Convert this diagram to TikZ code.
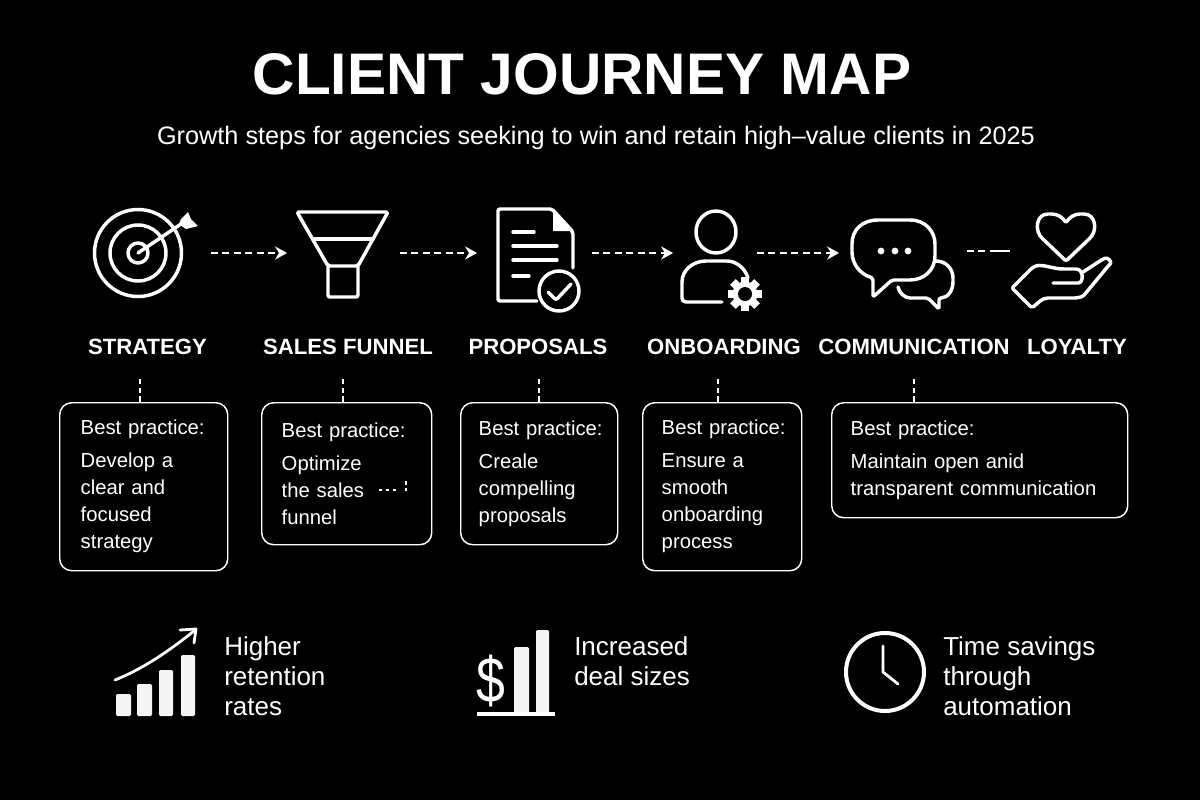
\documentclass[tikz,border=0pt]{standalone}
\usepackage{fontspec}
\setmainfont{Liberation Sans}
\usetikzlibrary{arrows.meta}
\tikzset{
  icon/.style={draw=white,line width=2.6pt,line cap=round,line join=round,rounded corners=1.5pt},
  thinicon/.style={draw=white,line width=2.1pt,line cap=round,line join=round},
  link/.style={draw=white,line width=1.2pt,dash pattern=on 5pt off 3.6pt},
  linkarrow/.style={link,-{Stealth[length=9pt,width=10pt,inset=3pt,color=white]}},
  drop/.style={draw=white,line width=1pt,dash pattern=on 4pt off 2.5pt},
  steplabel/.style={text=white,font=\fontsize{16.6}{20}\selectfont\bfseries,anchor=center},
  practice/.style={draw=white,line width=1.1pt,rounded corners=9pt,anchor=north west,align=left,text=white,inner ysep=0pt,font=\fontsize{15.2}{20.25}\selectfont},
  gain/.style={text=white,anchor=west,align=left,inner sep=0pt,font=\fontsize{19.5}{22.6}\selectfont},
  barfill/.style={fill=white!96!black,rounded corners=1pt},
}
\newcommand{\bestp}{\mbox{Best practice:}\\[4.5pt]}
\begin{document}
\begin{tikzpicture}[x=0.75pt,y=-0.75pt]
\fill[black] (0,0) rectangle (1200,800);
\useasboundingbox (0,0) rectangle (1200,800);

\node[text=white,font=\fontsize{44}{50}\selectfont\bfseries] (title) at (582,74) {CLIENT JOURNEY MAP};
\node[text=white,font=\fontsize{18.95}{22}\selectfont] (subtitle) at (596,138) {Growth steps for agencies seeking to win and retain high–value clients in 2025};

% target
\draw[icon] (138,253) circle (43.5);
\draw[icon] (138,253) circle (28);
\draw[icon] (138,253) circle (10);
\draw[thinicon,line width=2.6pt] (138,253) -- (184,222);
\fill[white] (188,212) -- (191,219) -- (198,226) -- (186,229) -- (179,224) -- (181,219) -- cycle;

% funnel
\draw[icon] (297,212) -- (388,212) -- (358,266) -- (328,266) -- cycle;
\draw[icon] (328,266) -- (328,297) -- (358,297) -- (358,266);
\draw[icon] (314,239) -- (373,239);

% document
\draw[icon] (537,301) -- (498,301) -- (498,209) -- (552,209) -- (573,232) -- (573,268);
\fill[white] (553,209) -- (573,231) -- (553,231) -- cycle;
\draw[icon] (513,232) -- (534,232);
\draw[icon] (513,246) -- (557,246);
\draw[icon] (513,260) -- (557,260);
\draw[icon] (513,276) -- (529,276);
\draw[icon] (559,291) circle (20);
\draw[icon] (548,292) -- (556,300) -- (571,284);

% person with gear
\draw[icon] (716,232) ellipse (20 and 21);
\draw[icon] (722,302) -- (688,302) .. controls (683,302) and (682,300) .. (682,296) -- (682,284) .. controls (682,270) and (693,261) .. (708,261) -- (725,261) .. controls (736,261) and (745,268) .. (748,278);
\fill[white] (745,294) circle (12.5);
\foreach \a in {0,45,...,315}{\fill[white,rotate around={\a:(745,294)}] (741,277) rectangle (749,290);}
\fill[black] (745,294) circle (7);

% chat
\draw[icon] (892,280) -- (873,297) -- (873,278) .. controls (860,274) and (852,264) .. (852,250) -- (852,246) .. controls (852,230) and (862,220) .. (880,220) -- (908,220) .. controls (926,220) and (935,232) .. (935,246) -- (935,254) .. controls (935,270) and (924,280) .. (908,280) -- cycle;
\fill[white] (881,251) circle (3.4) (895,251) circle (3.4) (908,251) circle (3.4);
\draw[icon] (936,261) .. controls (947,261) and (953,270) .. (953,280) .. controls (953,290) and (948,298) .. (939,298) -- (939,309) -- (928,298) -- (912,298) .. controls (905,298) and (899,293) .. (898,287);

% heart in hand
\draw[icon] (1066,261) -- (1044,240) .. controls (1034,231) and (1036,214) .. (1050,214) .. controls (1058,214) and (1063,218) .. (1066,223) .. controls (1069,218) and (1074,214) .. (1082,214) .. controls (1096,214) and (1098,231) .. (1088,240) -- cycle;
\draw[icon] (1053,283) -- (1076,283) .. controls (1084,283) and (1084,269) .. (1074,269) -- (1062,269) .. controls (1050,268) and (1040,263) .. (1032,268) -- (1012,288) -- (1032,308) .. controls (1038,303) and (1042,298) .. (1050,298) -- (1073,298) .. controls (1078,298) and (1082,297) .. (1085,294) -- (1109,265) .. controls (1112,262) and (1108,257) .. (1103,259) -- (1083,272);

% connector anchors
\coordinate (a1s) at (211,253); \coordinate (a1e) at (287,253);
\coordinate (a2s) at (400,253); \coordinate (a2e) at (477,253);
\coordinate (a3s) at (592,253); \coordinate (a3e) at (673,253);
\coordinate (a4s) at (757,253); \coordinate (a4e) at (839,253);
\coordinate (a5s) at (967,251); \coordinate (a5m) at (992,251); \coordinate (a5e) at (1010,251);
\draw[linkarrow] (a1s) -- (a1e);
\draw[linkarrow] (a2s) -- (a2e);
\draw[linkarrow] (a3s) -- (a3e);
\draw[linkarrow] (a4s) -- (a4e);
\draw[link] (a5s) -- (a5m);
\draw[draw=white,line width=1.2pt] (a5m) -- (a5e);

% step labels
\node[steplabel] (l1) at (147.5,347) {STRATEGY};
\node[steplabel] (l2) at (348,347) {SALES FUNNEL};
\node[steplabel] (l3) at (538,347) {PROPOSALS};
\node[steplabel] (l4) at (724,347) {ONBOARDING};
\node[steplabel] (l5) at (914,347) {COMMUNICATION};
\node[steplabel] (l6) at (1077,347) {LOYALTY};

% boxes
\node[practice,inner xsep=15.75pt,minimum width=126pt,minimum height=126pt,text width=94.5pt] (b1) at (59,402) {\bestp Develop a\\clear and\\focused\\strategy};
\node[practice,inner xsep=15pt,minimum width=127.5pt,minimum height=106.5pt,text width=97.5pt] (b2) at (261,402) {\bestp Optimize\\the sales\\funnel};
\node[practice,inner xsep=13.5pt,minimum width=117.75pt,minimum height=106.5pt,text width=90.75pt] (b3) at (460,402) {\bestp Creale\\compelling\\proposals};
\node[practice,inner xsep=14.25pt,minimum width=119.25pt,minimum height=126pt,text width=90.75pt] (b4) at (642,402) {\bestp Ensure a\\smooth\\onboarding\\process};
\node[practice,inner xsep=14.25pt,minimum width=222pt,minimum height=86.25pt,text width=193.5pt] (b5) at (831,402) {\bestp Maintain open anid\\transparent communication};

\coordinate (d1) at (140,379); \coordinate (d2) at (343,379); \coordinate (d3) at (539,379); \coordinate (d4) at (718,379); \coordinate (d5) at (914,379);
\draw[drop] (d1) -- (d1 |- b1.north);
\draw[drop] (d2) -- (d2 |- b2.north);
\draw[drop] (d3) -- (d3 |- b3.north);
\draw[drop] (d4) -- (d4 |- b4.north);
\draw[drop] (d5) -- (d5 |- b5.north);

% stray dots in box 2
\draw[draw=white,line width=1pt,dash pattern=on 2pt off 3.4pt] (379,490) -- (399,490);
\draw[draw=white,line width=1.2pt,dash pattern=on 3pt off 2pt] (406,481) -- (406,491);

% bottom: retention
\fill[barfill] (116,694) rectangle (131,716);
\fill[barfill] (137,684) rectangle (152,716);
\fill[barfill] (159,670) rectangle (173,716);
\fill[barfill] (181,655) rectangle (195,716);
\draw[thinicon] (115,680) .. controls (145,668) and (170,650) .. (194,631);
\draw[thinicon] (180,630) -- (196,629) -- (194,643);
\node[gain] (g1) at (224,676) {Higher\\retention\\rates};

% bottom: deal size
\node[text=white,inner sep=0pt,font=\fontsize{37}{40}\selectfont] (dollar) at (491,681) {\scalebox{1.05}[1.3]{\$}};
\fill[barfill] (514,647) rectangle (529,714);
\fill[barfill] (536,630) rectangle (549,714);
\draw[thinicon,line width=3pt,line cap=butt] (477,714) -- (555,714);
\node[gain] (g2) at (574,661) {Increased\\deal sizes};

% bottom: clock
\draw[icon,line width=3pt] (885,672) circle (39);
\draw[thinicon] (883,646) -- (883,672) -- (898,684);
\node[gain] (g3) at (943,676) {Time savings\\through\\automation};
\end{tikzpicture}
\end{document}
